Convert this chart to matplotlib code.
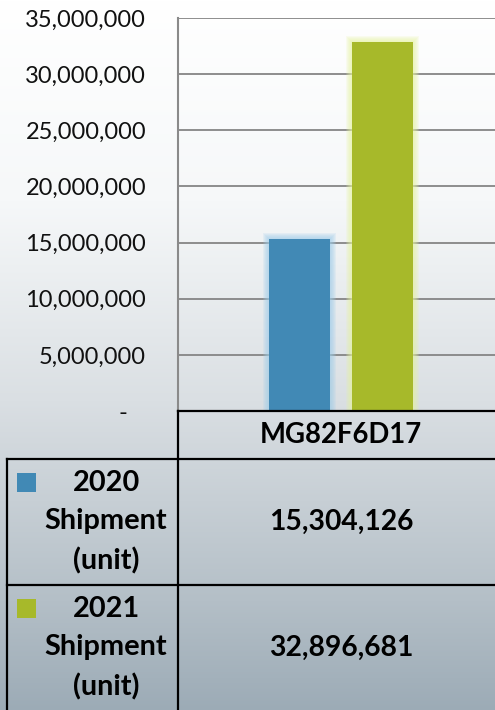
import numpy as np
import matplotlib.pyplot as plt
from matplotlib.ticker import FuncFormatter
from matplotlib.patches import Rectangle
from matplotlib.lines import Line2D

plt.rcParams["font.family"] = ["Lato", "DejaVu Sans"]

category = "MG82F6D17"
series = ["2020\nShipment\n(unit)", "2021\nShipment\n(unit)"]
values = [15304126, 32896681]
colors = ["#4189b5", "#a7b92a"]
glows = ["#9fcdea", "#e6f3a0"]
yticks = [0, 5000000, 10000000, 15000000, 20000000, 25000000, 30000000, 35000000]

W, H = 495, 710
fig = plt.figure(figsize=(W / 100, H / 100), dpi=100)

# background gradient
bg = fig.add_axes([0, 0, 1, 1], zorder=-10)
rows = np.arange(H)
stops_y = [0, 200, 400, 600, 710]
r = np.interp(rows, stops_y, [255, 246, 218, 180, 156])
g = np.interp(rows, stops_y, [255, 248, 223, 191, 171])
b = np.interp(rows, stops_y, [255, 249, 227, 199, 182])
grad = np.stack([r, g, b], axis=1)[:, None, :] / 255.0
bg.imshow(np.repeat(grad, 2, axis=1), aspect="auto", extent=[0, 1, 0, 1])
bg.axis("off")


def fx(px):
    return px / W


def fy(py):
    return 1 - py / H


ax = fig.add_axes([fx(178), fy(411), fx(504) - fx(178), fy(18) - fy(411)])
ax.patch.set_alpha(0)
ax.set_xlim(-0.5, 0.5)
ax.set_ylim(0, 35000000)

offsets = [-0.127, 0.126]
width = 0.187
px_x = 1 / 326
px_y = 35000000 / 393
for off, v, c, gc in zip(offsets, values, colors, glows):
    for k in range(6, 0, -1):
        ax.bar(off, v + k * px_y, width=width + 2 * k * px_x, color=gc, alpha=0.16,
               linewidth=0, zorder=2)
    ax.bar(off, v, width=width, color=c, linewidth=0, zorder=3)

ax.set_yticks(yticks)
ax.yaxis.set_major_formatter(FuncFormatter(lambda v, p: "-   " if v == 0 else f"{int(v):,}"))
ax.tick_params(axis="y", length=0, pad=23, labelsize=17, labelcolor="#111111")
ax.set_xticks([])
ax.grid(axis="y", color="#858585", linewidth=1.3, zorder=1)
for s in ["top", "right", "bottom"]:
    ax.spines[s].set_visible(False)
ax.spines["left"].set_color("#8a8a8a")
ax.spines["left"].set_linewidth(1.5)

# data table
lw = 1.6
lines = [
    ((178, 495), (411, 411)),
    ((7, 495), (459, 459)),
    ((7, 495), (585, 585)),
    ((178, 178), (411, 712)),
    ((7, 7), (459, 712)),
]
for xs, ys in lines:
    fig.add_artist(Line2D([fx(xs[0]), fx(xs[1])], [fy(ys[0]), fy(ys[1])],
                          color="black", linewidth=lw))

fig.text(fx(341), fy(435), category, ha="center", va="center", fontsize=19.8,
         fontweight="bold", color="black")

row_tops = [459, 585]
for i, (name, v, c) in enumerate(zip(series, values, colors)):
    top = row_tops[i]
    fig.add_artist(Rectangle((fx(17), fy(top + 33)), fx(19), fy(0) - fy(19),
                             facecolor=c, edgecolor="none"))
    fig.text(fx(106), fy(top + 63), name, ha="center", va="center", fontsize=20.8,
             fontweight="bold", color="black", linespacing=1.58)
    fig.text(fx(341), fy(top + 63), f"{v:,}", ha="center", va="center", fontsize=20.3,
             fontweight="bold", color="black")

fig.savefig("out.png", dpi=100)
